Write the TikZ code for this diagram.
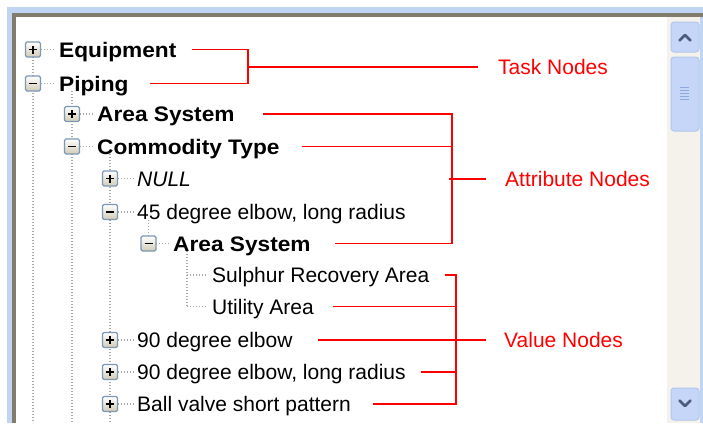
\documentclass[tikz,border=0pt]{standalone}
\usepackage{fontspec}
\setmainfont{Liberation Sans}
\newfontfamily\treebold[FakeStretch=1.08]{Liberation Sans}
\begin{document}
\begin{tikzpicture}[x=1pt,y=-1pt,
  treetext/.style={anchor=west,inner sep=0pt,text height=15pt,text depth=0pt,font=\fontsize{21}{21}\selectfont},
  boldtext/.style={treetext,font=\fontsize{21}{21}\treebold\bfseries},
  redlabel/.style={treetext,text=red},
  redl/.style={draw=red,line width=1.8pt},
  dots/.style={draw=dotgray,line width=1.1pt,dash pattern=on 1.2pt off 1.8pt},
  tbox/.style={draw=boxblue,line width=1.2pt,rounded corners=1.5pt,top color=white,bottom color=boxtan,minimum size=15pt,inner sep=0pt},
  sbtn/.style={draw=sbborder,line width=1pt,rounded corners=3pt,fill=sbfill}
]
\definecolor{dotgray}{HTML}{A8A8A8}
\definecolor{boxblue}{HTML}{7B98B6}
\definecolor{boxtan}{HTML}{D2CAB5}
\definecolor{sbborder}{HTML}{B2C6EE}
\definecolor{sbfill}{HTML}{C6D6F8}
\definecolor{framebl}{HTML}{C0D4F4}
\definecolor{framegr}{HTML}{827C6C}
\definecolor{track}{HTML}{F4F2EB}
\definecolor{chev}{HTML}{4A5B80}
\definecolor{grip}{HTML}{8FA8DC}

\fill[white] (0,0) rectangle (703,423);
\useasboundingbox (0,0) rectangle (703,423);

% window frame
\fill[framebl] (7,7) rectangle (703,423);
\fill[framegr] (12,13) rectangle (703,423);
\fill[white] (16,17) rectangle (703,423);

% scrollbar
\fill[track] (667,17) rectangle (703,423);
\fill[framebl] (700,17) rectangle (703,423);
\node[sbtn,minimum width=28pt,minimum height=30pt] (up) at (685,37) {};
\draw[chev,line width=2.6pt,line cap=round,line join=round] (679.5,40.5) -- (685,35) -- (690.5,40.5);
\node[sbtn,minimum width=28pt,minimum height=74pt] (thumb) at (685,94) {};
\foreach \yy in {87,90,93,96,99} \draw[grip,line width=0.9pt] (680,\yy) -- (689,\yy);
\node[sbtn,minimum width=28pt,minimum height=32pt] (down) at (685,404) {};
\draw[chev,line width=2.6pt,line cap=round,line join=round] (679.5,400.5) -- (685,406) -- (690.5,400.5);

% tree dotted lines
\draw[dots] (33,57) -- (33,423);
\draw[dots] (72,91) -- (72,423);
\draw[dots] (110,154) -- (110,423);
\draw[dots] (148.5,219.5) -- (148.5,243.5);
\draw[dots] (187,251) -- (187,306.5);
% horizontal stubs
\draw[dots] (40.5,49.5) -- (55,49.5);
\draw[dots] (40.5,83.5) -- (55,83.5);
\draw[dots] (79.5,114) -- (93,114);
\draw[dots] (79.5,146.5) -- (93,146.5);
\draw[dots] (117.5,178.5) -- (133,178.5);
\draw[dots] (117.5,212) -- (133,212);
\draw[dots] (156,243.5) -- (169,243.5);
\draw[dots] (187,275) -- (208,275);
\draw[dots] (187,306.5) -- (208,306.5);
\draw[dots] (117.5,340) -- (133,340);
\draw[dots] (117.5,372) -- (133,372);
\draw[dots] (117.5,404) -- (133,404);

% expand/collapse boxes
\newcommand{\plusbox}[2]{\node[tbox] at (#1,#2) {};
  \draw[black,line width=1.6pt] (#1-4,#2) -- (#1+4,#2) (#1,#2-4) -- (#1,#2+4);}
\newcommand{\minusbox}[2]{\node[tbox] at (#1,#2) {};
  \draw[black,line width=1.6pt] (#1-4,#2) -- (#1+4,#2);}
\plusbox{33}{49.5}
\minusbox{33}{83.5}
\plusbox{72}{114}
\minusbox{72}{146.5}
\plusbox{110}{178.5}
\minusbox{110}{212}
\minusbox{148.5}{243.5}
\plusbox{110}{340}
\plusbox{110}{372}
\plusbox{110}{404}

% tree texts
\node[boldtext] (eq) at (59,49.5) {Equipment};
\node[boldtext] (pip) at (59,83.5) {Piping};
\node[boldtext] (as1) at (97,114) {Area System};
\node[boldtext] (ct) at (97,146.5) {Commodity Type};
\node[treetext,font=\fontsize{21}{21}\selectfont\itshape] (nul) at (137,178.5) {NULL};
\node[treetext] (d45) at (137,212) {45 degree elbow, long radius};
\node[boldtext] (as2) at (173,243.5) {Area System};
\node[treetext] (sul) at (212,275) {Sulphur Recovery Area};
\node[treetext] (uti) at (212,306.5) {Utility Area};
\node[treetext] (e90) at (137,340) {90 degree elbow};
\node[treetext] (e90l) at (137,372) {90 degree elbow, long radius};
\node[treetext] (bv) at (137,404) {Ball valve short pattern};

% labels
\node[redlabel] (task) at (498,67) {Task Nodes};
\node[redlabel] (attr) at (505,179) {Attribute Nodes};
\node[redlabel] (val) at (504,340) {Value Nodes};

% junctions
\coordinate (tj) at (248,67);
\coordinate (aj) at (452,179);
\coordinate (vj) at (456,340);

% task connectors
\draw[redl] (eq.east -| 192,0) -| (tj) |- (pip.east -| 150,0);
\draw[redl] (tj) -- ([xshift=-20pt]task.west);
% attribute connectors
\draw[redl] (as1.east -| 263,0) -| (aj) |- (as2.east -| 335,0);
\draw[redl] (ct.east -| 302,0) -- (ct.east -| aj);
\draw[redl] ([xshift=-3pt]aj) -- ([xshift=-19pt]attr.west);
% value connectors
\draw[redl] (sul.east -| 445,0) -| (vj) |- (bv.east -| 373,0);
\draw[redl] (uti.east -| 333,0) -- (uti.east -| vj);
\draw[redl] (e90.east -| 318,0) -- ([xshift=-18pt]val.west);
\draw[redl] (e90l.east -| 421,0) -- (e90l.east -| vj);
\end{tikzpicture}
\end{document}
